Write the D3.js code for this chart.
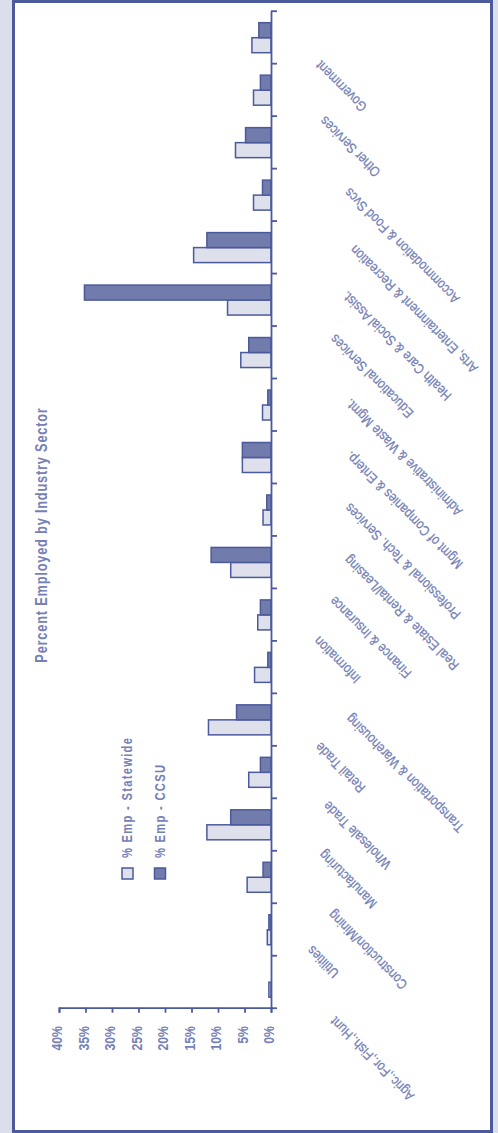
<!DOCTYPE html>
<html>
<head>
<meta charset="utf-8">
<script src="https://cdn.jsdelivr.net/npm/d3@7"></script>
<style>
  html, body { margin: 0; padding: 0; background: #dcdfeb; }
  svg { display: block; }
  text { font-family: "Liberation Sans", Arial, sans-serif; fill: #7480b6; }
</style>
</head>
<body>
<div id="chartDiv"></div>
<script>
// Categories, bottom to top as they appear on the page
let categories = ['Agric.,For.,Fish.,Hunt', 'Utilities', 'Construction/Mining', 'Manufacturing',
    'Wholesale Trade', 'Retail Trade', 'Transportation & Warehousing', 'Information',
    'Finance & Insurance', 'Real Estate & Rental/Leasing', 'Professional & Tech. Services',
    'Mgmt of Companies & Enterp.', 'Administrative & Waste Mgmt.', 'Educational Services',
    'Health Care & Social Assist.', 'Arts, Entertainment & Recreation', 'Accommodation & Food Svcs',
    'Other Services', 'Government'];

// Percent employed
let statewide = [0.4, 0.7, 4.5, 12.1, 4.2, 11.8, 3.1, 2.5, 7.6, 1.5, 5.4, 1.6, 5.7, 8.2, 14.6, 3.3, 6.7, 3.3, 3.6];
let ccsu = [0, 0.4, 1.5, 7.6, 2.0, 6.5, 0.6, 2.0, 11.3, 0.8, 5.4, 0.6, 4.2, 35.2, 12.1, 1.6, 4.8, 2.0, 2.3];

let seriesNames = ['% Emp - Statewide', '% Emp - CCSU'];
let valueTicks = [0, 5, 10, 15, 20, 25, 30, 35, 40];
let title = 'Percent Employed by Industry Sector';

let lineColor = '#4b5a9b';
let fills = ['#dee0ec', '#717bac'];

let width = 498, height = 1133;

let svg = d3.select('#chartDiv')
    .append('svg')
    .attr('width', width)
    .attr('height', height);

// white panel with the dark frame
svg.append('rect')
    .attr('x', 13.5).attr('y', 1.5)
    .attr('width', 478).attr('height', 1130)
    .attr('fill', '#fff')
    .attr('stroke', lineColor)
    .attr('stroke-width', 3);

// the chart is drawn turned a quarter: values run right to left, categories bottom to top
let xScale = d3.scaleLinear().domain([0, 40]).range([271, 59]);
let yScale = d3.scaleBand().domain(categories).range([1007.7, 10.7]);
let subScale = d3.scaleBand().domain(seriesNames).range([42, 12]);

let series = seriesNames.map(function(name, k) {
    return {name: name, fill: fills[k], values: k === 0 ? statewide : ccsu};
});

let bars = svg.append('g').attr('class', 'bars');
series.forEach(function(s) {
    bars.selectAll(null)
        .data(categories.map(function(c, i) {return {cat: c, v: s.values[i]}}).filter(function(d) {return d.v > 0}))
        .enter()
        .append('rect')
        .attr('x', function(d) {return xScale(d.v)})
        .attr('y', function(d) {return yScale(d.cat) + subScale(s.name)})
        .attr('width', function(d) {return xScale(0) - xScale(d.v)})
        .attr('height', subScale.bandwidth())
        .attr('fill', s.fill)
        .attr('stroke', lineColor)
        .attr('stroke-width', 1.5);
});

// value axis along the bottom
let xAxis = svg.append('g')
    .attr('transform', 'translate(0,' + 1007.7 + ')')
    .call(d3.axisBottom(xScale).tickValues(valueTicks).tickSize(5).tickSizeOuter(5)
        .tickFormat(function(d) {return d + '%'}));
xAxis.select('.domain').attr('stroke', lineColor).attr('stroke-width', 1.8);
xAxis.selectAll('line').attr('stroke', lineColor).attr('stroke-width', 1.8);
xAxis.selectAll('text')
    .attr('x', 0).attr('y', 0).attr('dy', 0)
    .attr('text-anchor', 'end')
    .attr('fill', '#7480b6')
    .style('font-size', '15px')
    .style('font-weight', 'bold')
    .attr('transform', 'translate(2.5,18.3) rotate(-90) scale(0.82,1)');

// category axis: ticks on the band edges
let edgeScale = d3.scaleLinear().domain([0, categories.length]).range([1007.7, 10.7]);
let yAxis = svg.append('g')
    .attr('transform', 'translate(271,0)')
    .call(d3.axisRight(edgeScale).tickValues(d3.range(categories.length + 1)).tickSize(6).tickSizeOuter(0).tickFormat(''));
yAxis.select('.domain').attr('stroke', lineColor).attr('stroke-width', 1.8);
yAxis.selectAll('line').attr('stroke', lineColor).attr('stroke-width', 1.8);

// slanted category labels
let labelScale = 0.85;
svg.append('g').selectAll('text')
    .data(categories)
    .enter()
    .append('text')
    .attr('text-anchor', 'end')
    .style('font-size', '14px')
    .attr('stroke', '#7480b6')
    .attr('stroke-width', 0.25)
    .text(function(d) {return d})
    .each(function(d) {
        let len = this.getComputedTextLength() * labelScale;
        let c = yScale(d) + yScale.bandwidth() / 2;
        let bx = 271 + 29.6 + 0.317 * len;
        let by = c + 6.5 + 0.25 * len;
        d3.select(this).attr('transform', 'translate(' + bx + ',' + by + ') rotate(225) scale(' + labelScale + ',1)');
    });

// title
svg.append('text')
    .attr('text-anchor', 'middle')
    .style('font-size', '16px')
    .style('font-weight', 'bold')
    .style('letter-spacing', '1px')
    .attr('transform', 'translate(46.5,535) rotate(-90) scale(0.8,1)')
    .text(title);

// legend
let legendX = [122, 154.5];
series.forEach(function(s, k) {
    svg.append('rect')
        .attr('x', legendX[k]).attr('y', 868)
        .attr('width', 11).attr('height', 11)
        .attr('fill', s.fill)
        .attr('stroke', lineColor)
        .attr('stroke-width', 1.5);
    svg.append('text')
        .attr('text-anchor', 'start')
        .style('font-size', '14px')
        .style('font-weight', 'bold')
        .style('letter-spacing', '1.6px')
        .attr('transform', 'translate(' + (legendX[k] + 10) + ',858) rotate(-90) scale(0.8,1)')
        .text(s.name);
});
</script>
</body>
</html>
